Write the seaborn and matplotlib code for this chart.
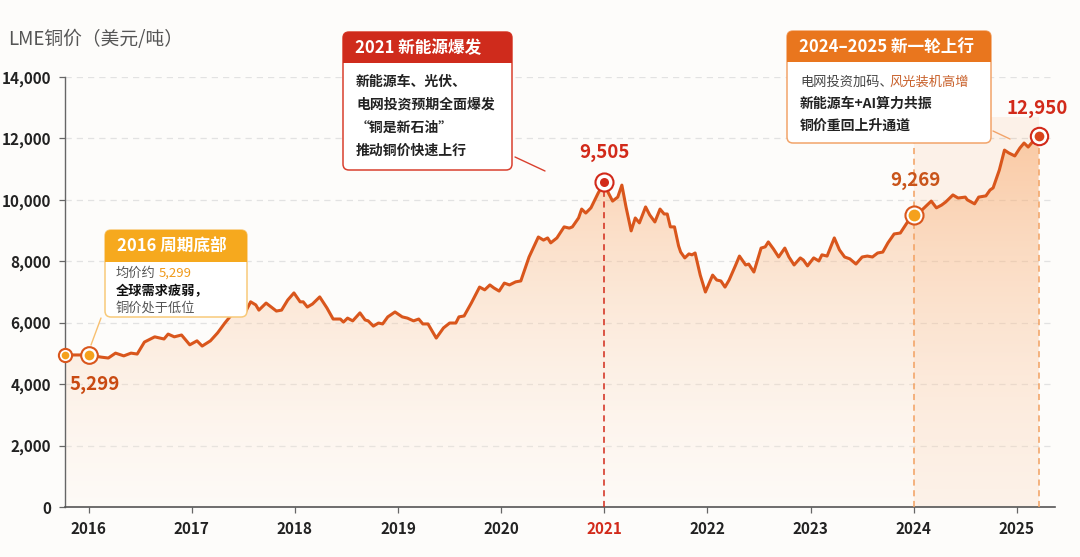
import numpy as np
import pandas as pd
import seaborn as sns
import matplotlib.pyplot as plt
import matplotlib.transforms as mtransforms
from matplotlib.patches import FancyBboxPatch, Rectangle
from matplotlib.colors import LinearSegmentedColormap
from matplotlib.lines import Line2D

# LME 铜价走势，x 为年份小数
years = [2015.77, 2016.00, 2016.12, 2016.19, 2016.26, 2016.34, 2016.41, 2016.47, 2016.54, 2016.64,
         2016.73, 2016.77, 2016.83, 2016.90, 2016.98, 2017.05, 2017.10, 2017.18, 2017.25, 2017.32,
         2017.40, 2017.47, 2017.52, 2017.57, 2017.62, 2017.65, 2017.72, 2017.77, 2017.82, 2017.87,
         2017.93, 2017.99, 2018.05, 2018.08, 2018.12, 2018.17, 2018.24, 2018.31, 2018.37, 2018.44,
         2018.47, 2018.51, 2018.56, 2018.63, 2018.68, 2018.71, 2018.76, 2018.81, 2018.85, 2018.90,
         2018.97, 2019.04, 2019.09, 2019.15, 2019.20, 2019.24, 2019.29, 2019.37, 2019.44, 2019.50,
         2019.56, 2019.59, 2019.64, 2019.71, 2019.79, 2019.84, 2019.89, 2019.93, 2019.98, 2020.03,
         2020.08, 2020.14, 2020.19, 2020.27, 2020.36, 2020.41, 2020.45, 2020.48, 2020.54, 2020.61,
         2020.66, 2020.69, 2020.75, 2020.78, 2020.82, 2020.87, 2020.94, 2021.00, 2021.04, 2021.08,
         2021.13, 2021.17, 2021.21, 2021.26, 2021.30, 2021.34, 2021.40, 2021.44, 2021.49, 2021.54,
         2021.58, 2021.61, 2021.64, 2021.68, 2021.72, 2021.74, 2021.78, 2021.82, 2021.85, 2021.88,
         2021.93, 2021.98, 2022.05, 2022.09, 2022.13, 2022.17, 2022.21, 2022.27, 2022.31, 2022.37,
         2022.40, 2022.45, 2022.52, 2022.56, 2022.59, 2022.64, 2022.69, 2022.75, 2022.79, 2022.84,
         2022.90, 2022.93, 2022.97, 2023.03, 2023.08, 2023.11, 2023.16, 2023.23, 2023.28, 2023.33,
         2023.38, 2023.44, 2023.50, 2023.55, 2023.60, 2023.65, 2023.70, 2023.75, 2023.81, 2023.87,
         2023.94, 2024.00, 2024.08, 2024.13, 2024.17, 2024.22, 2024.27, 2024.31, 2024.38, 2024.43,
         2024.50, 2024.52, 2024.59, 2024.63, 2024.70, 2024.74, 2024.77, 2024.83, 2024.88, 2024.92,
         2024.98, 2025.03, 2025.07, 2025.11, 2025.16, 2025.21]
prices = [4950, 4950, 4880, 4850, 5010, 4920, 5010, 4980, 5370, 5540,
          5470, 5630, 5540, 5600, 5280, 5410, 5240, 5410, 5670, 5990,
          6320, 6480, 6350, 6680, 6580, 6410, 6640, 6510, 6380, 6410,
          6740, 6970, 6680, 6680, 6510, 6610, 6840, 6480, 6120, 6120,
          6020, 6150, 6060, 6320, 6090, 6060, 5890, 5990, 5960, 6190,
          6350, 6190, 6150, 6060, 6120, 5960, 5960, 5500, 5830, 5990,
          5990, 6190, 6220, 6640, 7160, 7070, 7230, 7130, 7030, 7290,
          7230, 7330, 7360, 8140, 8790, 8690, 8760, 8600, 8760, 9120,
          9080, 9120, 9410, 9700, 9570, 9740, 10220, 10580, 10220, 9960,
          10090, 10480, 9770, 8990, 9410, 9250, 9770, 9510, 9280, 9700,
          9540, 9540, 9120, 9120, 8500, 8300, 8110, 8240, 8210, 8270,
          7550, 7000, 7550, 7390, 7360, 7160, 7390, 7850, 8170, 7880,
          7910, 7650, 8430, 8470, 8630, 8400, 8140, 8430, 8140, 7880,
          8110, 8040, 7850, 8110, 8010, 8210, 8170, 8760, 8370, 8140,
          8080, 7910, 8140, 8170, 8140, 8270, 8300, 8600, 8890, 8920,
          9280, 9510, 9670, 9830, 9960, 9740, 9830, 9930, 10160, 10060,
          10090, 10000, 9870, 10090, 10130, 10320, 10390, 10970, 11620, 11530,
          11430, 11690, 11850, 11720, 11920, 12080]

year_ticks = [2016, 2017, 2018, 2019, 2020, 2021, 2022, 2023, 2024, 2025]
y_ticks = [0, 2000, 4000, 6000, 8000, 10000, 12000, 14000]

# 关键节点
key_years = [2016.00, 2021.00, 2024.00, 2025.21]
key_labels = ['5,299', '9,505', '9,269', '12,950']

df = pd.DataFrame({'year': years, 'price': prices})
price_at = dict(zip(years, prices))

LINE = '#d9561c'
RED = '#d22a1a'
ORANGE = '#f5a11c'
BG = '#fdfcfa'

sns.set_theme(style='white')
plt.rcParams['font.family'] = ['Noto Sans CJK SC', 'DejaVu Sans']
plt.rcParams['axes.unicode_minus'] = False

W, H = 1080, 557
fig = plt.figure(figsize=(W / 100, H / 100), dpi=100, facecolor=BG)
ax = fig.add_axes([65 / W, 1 - 507 / H, 990 / W, 430 / H])
ax.set_facecolor(BG)

x0, x1 = 2015.77, 2025.37
ax.set_xlim(x0, x1)
ax.set_ylim(0, 14000)

# grid
for v in y_ticks[1:]:
    ax.axhline(v, color='#e2e2e2', lw=0.9, ls=(0, (5, 4)), zorder=0)

# 2024-2025 区间浅色底
ax.axvspan(2024.0, 2025.21, ymin=0, ymax=12700 / 14000, color='#f7a76a', alpha=0.12, lw=0, zorder=1)

# gradient fill under curve
cmap = LinearSegmentedColormap.from_list(
    'fillgrad', [(1.0, 0.96, 0.92, 0.2), (0.97, 0.62, 0.35, 0.5)])
grad = np.linspace(0, 1, 256).reshape(-1, 1)
im = ax.imshow(grad, extent=[x0, x1, 0, 12500], origin='lower', aspect='auto',
               cmap=cmap, zorder=1, interpolation='bicubic')
poly = ax.fill_between(years, prices, 0, color='none', lw=0)
im.set_clip_path(poly.get_paths()[0], transform=ax.transData)
ax.set_xlim(x0, x1)
ax.set_ylim(0, 14000)

sns.lineplot(data=df, x='year', y='price', ax=ax, color=LINE, lw=2.2, zorder=4,
             sort=False, legend=False)

# vertical dashed guides
ax.plot([2021.0, 2021.0], [0, price_at[2021.00]], color=RED, lw=1.1, ls=(0, (4, 3)), zorder=3)
ax.plot([2024.0, 2024.0], [0, 11950], color='#f2a060', lw=1.1, ls=(0, (4, 3)), zorder=3)
ax.plot([2025.21, 2025.21], [0, price_at[2025.21]], color='#f2a060', lw=1.1, ls=(0, (4, 3)), zorder=3)

# markers
ax.plot(2015.77, price_at[2015.77], 'o', ms=9.5, mfc='white', mec=LINE, mew=1.5, zorder=6, clip_on=False)
ax.plot(2015.77, price_at[2015.77], 'o', ms=5.5, mfc=ORANGE, mec='none', zorder=7, clip_on=False)
ring = {2016.00: (ORANGE, LINE, 12, 7), 2021.00: (RED, RED, 13, 6.5),
        2024.00: (ORANGE, LINE, 13, 8.5), 2025.21: ('#d9441c', RED, 12.5, 7)}
for k in key_years:
    fc, ec, big, small = ring[k]
    ax.plot(k, price_at[k], 'o', ms=big, mfc='white', mec=ec, mew=1.5, zorder=6)
    ax.plot(k, price_at[k], 'o', ms=small, mfc=fc, mec='none', zorder=7)

# value labels
offsets = [(4, -21), (0, 21), (1, 25), (-1, 20)]
label_colors = ['#c94a12', RED, '#c9541a', RED]
for k, lab, off, c in zip(key_years, key_labels, offsets, label_colors):
    ax.annotate(lab, (k, price_at[k]), xytext=off, textcoords='offset points',
                ha='center', va='center', fontsize=13.5, fontweight='bold', color=c, zorder=8)

# axes styling
ax.set_xticks(year_ticks)
ax.set_xticklabels([str(y) for y in year_ticks], fontsize=11, fontweight='bold', color='#222222')
for lab in ax.get_xticklabels():
    if lab.get_text() == '2021':
        lab.set_color(RED)
ax.set_yticks(y_ticks)
ax.set_yticklabels([f'{v:,}' for v in y_ticks], fontsize=11, fontweight='bold', color='#222222')
ax.tick_params(axis='both', length=4, width=0.9, color='#666666', pad=6, bottom=True, left=True)
ax.set_xlabel('')
ax.set_ylabel('')
for s in ['top', 'right']:
    ax.spines[s].set_visible(False)
ax.spines['left'].set_color('#666666')
ax.spines['bottom'].set_color('#555555')
ax.spines['left'].set_linewidth(1.0)
ax.spines['bottom'].set_linewidth(1.2)

fig.text(8 / W, 1 - 40 / H, 'LME铜价（美元/吨）', fontsize=13.5, color='#555555', va='center', ha='left')

# callout boxes in pixel coordinates (y from top)
px = mtransforms.Affine2D().scale(1 / W, -1 / H).translate(0, 1) + fig.transFigure


def callout(x, y, w, h, head_h, head_c, edge_c, title):
    body = FancyBboxPatch((x, y), w, h, boxstyle='round,pad=0,rounding_size=6',
                          transform=px, fc='white', ec=edge_c, lw=1.1, zorder=10)
    fig.patches.append(body)
    head = FancyBboxPatch((x, y), w, head_h, boxstyle='round,pad=0,rounding_size=6',
                          transform=px, fc=head_c, ec='none', zorder=11)
    fig.patches.append(head)
    fig.patches.append(Rectangle((x, y + head_h / 2), w, head_h / 2, transform=px,
                                 fc=head_c, ec='none', zorder=11))
    fig.text(x + 12, y + head_h / 2 + 1, title, transform=px, fontsize=12, fontweight='bold',
             color='white', va='center', ha='left', zorder=12)


def line(p, q, c):
    fig.lines.append(Line2D([p[0], q[0]], [p[1], q[1]], transform=px, color=c, lw=1.0, zorder=9))


# 2016
callout(105, 230, 142, 87, 32, '#f6a91e', '#f8ca7a', '2016 周期底部')
fig.text(116, 273, '均价约', transform=px, fontsize=9.5, color='#555555', va='center', zorder=12)
fig.text(159, 273, '5,299', transform=px, fontsize=9.5, color='#f09a1a', va='center', zorder=12)
fig.text(116, 291, '全球需求疲弱，', transform=px, fontsize=9.5, fontweight='bold', color='#111111', va='center', zorder=12)
fig.text(116, 309, '铜价处于低位', transform=px, fontsize=9.5, color='#555555', va='center', zorder=12)
line((101, 318), (91, 345), '#f8c070')

# 2021
callout(343, 32, 169, 138, 31, '#cf2b1c', '#d9402e', '2021 新能源爆发')
for i, t in enumerate(['新能源车、光伏、', '电网投资预期全面爆发', '“铜是新石油”', '推动铜价快速上行']):
    fig.text(356, 82 + i * 23, t, transform=px, fontsize=10, fontweight='bold', color='#222222',
             va='center', zorder=12)
line((515, 157), (545, 171), '#d9402e')

# 2024-2025
callout(787, 31, 204, 112, 31, '#e9761e', '#f2a46a', '2024–2025 新一轮上行')
fig.text(800, 82, '电网投资加码、', transform=px, fontsize=9.5, color='#444444', va='center', zorder=12)
fig.text(889, 82, '风光装机高增', transform=px, fontsize=9.5, color='#c8602a', va='center', zorder=12)
fig.text(800, 104, '新能源车+AI算力共振', transform=px, fontsize=10, fontweight='bold', color='#222222', va='center', zorder=12)
fig.text(800, 126, '铜价重回上升通道', transform=px, fontsize=10, fontweight='bold', color='#222222', va='center', zorder=12)
line((993, 131), (1010, 139), '#f2a46a')

fig.savefig('out.png', dpi=100, facecolor=BG)
